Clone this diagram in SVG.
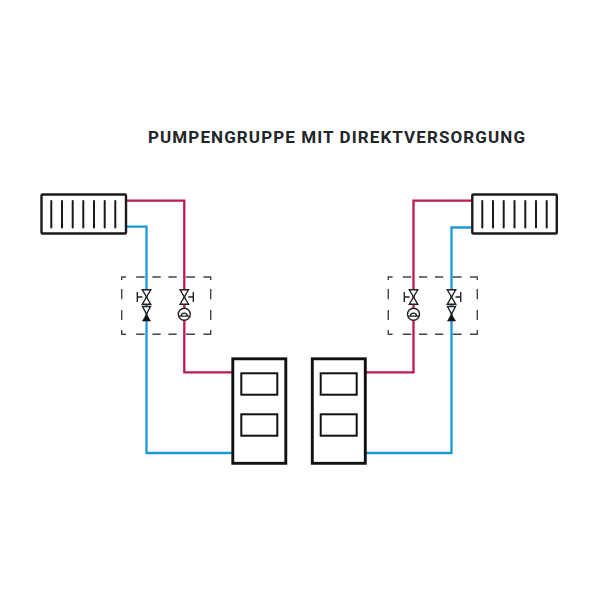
<svg xmlns="http://www.w3.org/2000/svg" width="600" height="600" viewBox="0 0 600 600">
<style>
.t{font-family:"Roboto","Liberation Sans",sans-serif;font-weight:700;font-size:17px;fill:#22252a}
.r{fill:none;stroke:#bd1a4f;stroke-width:2.3}
.b{fill:none;stroke:#1b98d8;stroke-width:2.3}
.rad{fill:#fff;stroke:#1a1a1a;stroke-width:2.4}
.boil{fill:#fff;stroke:#111;stroke-width:2.9}
.in{fill:#fff;stroke:#111;stroke-width:2}
.bar{stroke:#1a1a1a;stroke-width:2;stroke-linecap:round}
.dash{fill:none;stroke:#444;stroke-width:1.4}
.v{fill:#fff;stroke:#222;stroke-width:1.4}
.h{fill:none;stroke:#222;stroke-width:1.4}
.f{fill:#111;stroke:#111;stroke-width:.6}
</style>
<defs>
<g id="valve"><path class="v" d="M-4.200-7.200H4.200L-4.200 7.200H4.200Z"/></g>
<g id="check"><path class="v" d="M-4-7.500H4L0 0Z"/><path class="f" d="M0 0L4 7H-4Z"/></g>
<g id="pump"><circle class="v" r="6"/><path class="h" d="M-5.500 1.800H5.500M-3 1.800A3 3 0 0 1 3 1.800"/></g>
<path id="dashbox" class="dash" d="M0 3V0H4.300M14.500 0H23M30.700 0H39M46.700 0H55M64.300 0H73.300M81.700 0H89V3M89 12V22.300M89 33V43M89 53V57.300H81.700M73.300 57.300H64.300M55 57.300H46.700M39 57.300H30.700M23 57.300H14.500M4.300 57.300H0V53M0 43V33M0 22.300V12"/>
</defs>
<text class="t" x="148" y="142.800" textLength="377" lengthAdjust="spacing">PUMPENGRUPPE MIT DIREKTVERSORGUNG</text>
<g id="connectors">
<path class="r" d="M126 200.700H184.300V372.300H233"/>
<path class="b" d="M126 226.700H146.500V453H233"/>
<path class="r" d="M472 200.700H413.500V372.300H365"/>
<path class="b" d="M472 227.500H451.500V453H365"/>
</g>
<g id="group-left">
<use href="#dashbox" x="121.700" y="277"/>
<g id="valve-l1"><use href="#valve" x="146.500" y="297"/><path class="h" d="M142.500 297H137.300M137.300 292V302"/></g>
<use id="check-l" href="#check" x="146.500" y="314"/>
<g id="valve-l2"><use href="#valve" x="184.300" y="297"/><path class="h" d="M188.300 297H193.300M193.300 292V302"/></g>
<use id="pump-l" href="#pump" x="184.300" y="314.300"/>
</g>
<g id="group-right">
<use href="#dashbox" x="388.300" y="277"/>
<g id="valve-r1"><use href="#valve" x="413.500" y="297"/><path class="h" d="M409.500 297H404.300M404.300 292V302"/></g>
<use id="pump-r" href="#pump" x="413.500" y="314.300"/>
<g id="valve-r2"><use href="#valve" x="451.500" y="297"/><path class="h" d="M455.500 297H460.700M460.700 292V302"/></g>
<use id="check-r" href="#check" x="451.500" y="314"/>
</g>
<g id="radiator-left">
<rect class="rad" x="41.500" y="194.500" width="84.500" height="39" rx="1"/>
<path class="bar" d="M51.300 201V227.500M62 201V227.500M72.700 201V227.500M83.300 201V227.500M94 201V227.500M104.700 201V227.500M115.300 201V227.500"/>
</g>
<g id="radiator-right">
<rect class="rad" x="472.300" y="194.500" width="84.500" height="39" rx="1"/>
<path class="bar" d="M482.300 201V227.500M493 201V227.500M503.700 201V227.500M514.500 201V227.500M525.300 201V227.500M536 201V227.500M546.700 201V227.500"/>
</g>
<g id="boiler-left">
<rect class="boil" x="232.800" y="358.800" width="53" height="104.500"/>
<rect class="in" x="241.300" y="373.300" width="36" height="21.400"/>
<rect class="in" x="241.300" y="414.300" width="36" height="21.400"/>
</g>
<g id="boiler-right">
<rect class="boil" x="312.300" y="358.800" width="53" height="104.500"/>
<rect class="in" x="320.700" y="373.300" width="36" height="21.400"/>
<rect class="in" x="320.700" y="414.300" width="36" height="21.400"/>
</g>
</svg>
